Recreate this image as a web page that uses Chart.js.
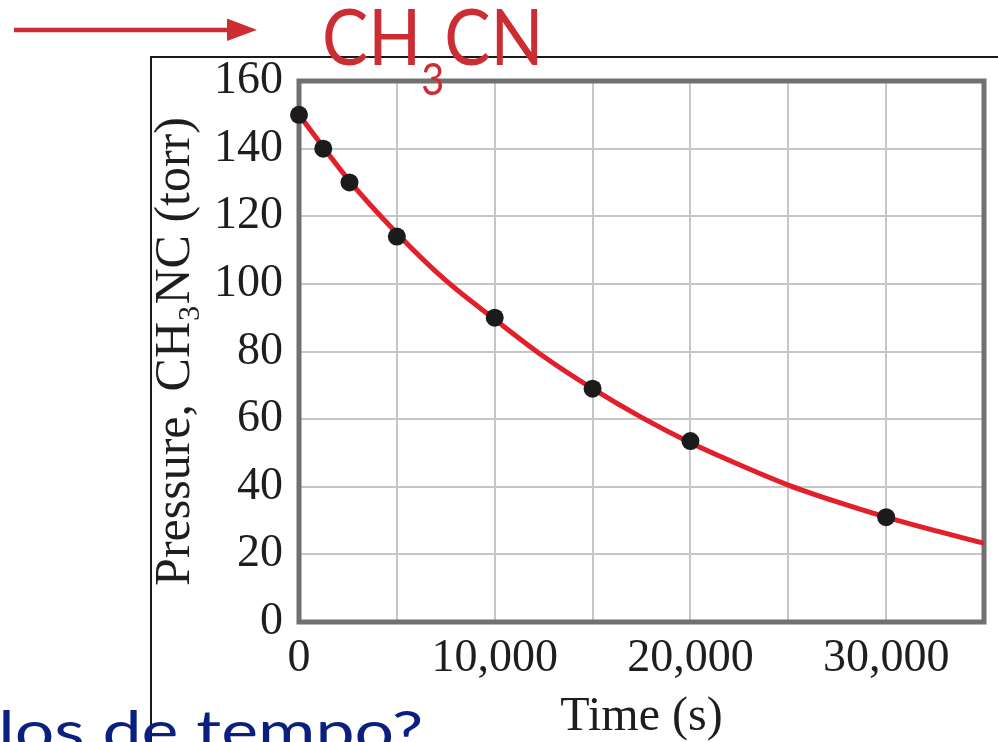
<!DOCTYPE html>
<html>
<head>
<meta charset="utf-8">
<script src="https://cdn.jsdelivr.net/npm/chart.js@4.4.1/dist/chart.umd.min.js"></script>
<style>
  html, body { margin: 0; padding: 0; background: #ffffff; }
  body { width: 998px; height: 742px; position: relative; overflow: hidden; }
  #frame { position: absolute; left: 150px; top: 56px; width: 860px; height: 700px;
           border-left: 2px solid #1a1a1a; border-top: 2px solid #1a1a1a; }
  #wrap { position: absolute; left: 151px; top: 57px; width: 847px; height: 685px; }
  #arrow { position: absolute; left: 0; top: 0; z-index: 3; }
  #formula { position: absolute; left: 322px; top: -3px; font-family: Lato, sans-serif;
             font-size: 77px; line-height: 1; color: #cc2d33; white-space: nowrap; z-index: 4;
             transform-origin: 0 0; transform: scaleX(0.9); }
  #formula span { font-size: 44px; position: relative; top: 30px; }
  #question { position: absolute; right: 575px; top: 701px; font-family: Lato, sans-serif;
              font-size: 57px; line-height: 1; color: #0b1f7e; white-space: nowrap; z-index: 2;
              transform-origin: 100% 0; transform: scaleX(1.225); }
</style>
</head>
<body>
<div id="frame"></div>
<div id="wrap"><canvas id="c"></canvas></div>
<svg id="arrow" width="270" height="50">
  <line x1="14" y1="30" x2="229" y2="30" stroke="#cc2d33" stroke-width="4.5"/>
  <polygon points="227,18.5 257,30 227,41" fill="#cc2d33"/>
</svg>
<div id="formula">CH<span>3</span>CN</div>
<div id="question">intervalos de tempo?</div>
<script>
// Measured points
const pointTimes = [0, 1240, 2580, 5000, 10000, 15000, 20000, 30000];
const pointPressures = [150, 140, 130, 114, 90, 69, 53.5, 31];
// Fitted curve
const curveTimes = [0, 2500, 5000, 7500, 10000, 12500, 15000, 17500, 20000, 22500, 25000, 27500, 30000, 32500, 35000];
const curvePressures = [150, 131, 115, 101, 89.5, 78.5, 69, 60.5, 53, 46.5, 40.5, 35.5, 31, 27, 23.3];
// Axis ticks
const xTickLabels = [0, 10000, 20000, 30000];
const yTicks = [0, 20, 40, 60, 80, 100, 120, 140, 160];

const frameBorder = {
  id: 'frameBorder',
  beforeDatasetsDraw(chart) {
    const a = chart.chartArea, ctx = chart.ctx;
    ctx.save();
    ctx.strokeStyle = '#707070';
    ctx.lineWidth = 5;
    ctx.strokeRect(a.left, a.top, a.right - a.left, a.bottom - a.top);
    ctx.restore();
  }
};

const serif = "'Liberation Serif', 'DejaVu Serif', serif";

new Chart(document.getElementById('c'), {
  type: 'scatter',
  data: {
    datasets: [
      {
        label: 'Measured',
        data: pointTimes.map((t, i) => ({ x: t, y: pointPressures[i] })),
        pointRadius: 9,
        pointHoverRadius: 9,
        pointBackgroundColor: '#1b1b1b',
        pointBorderWidth: 0,
        showLine: false,
        clip: false
      },
      {
        label: 'Fit',
        type: 'line',
        data: curveTimes.map((t, i) => ({ x: t, y: curvePressures[i] })),
        borderColor: '#e2202c',
        borderWidth: 5,
        pointRadius: 0,
        cubicInterpolationMode: 'monotone',
        fill: false
      }
    ]
  },
  options: {
    responsive: true,
    maintainAspectRatio: false,
    animation: false,
    events: [],
    layout: { padding: { top: 24, right: 11, left: 0, bottom: 0 } },
    plugins: { legend: { display: false }, tooltip: { enabled: false } },
    scales: {
      x: {
        type: 'linear',
        min: 0, max: 35000,
        border: { display: false },
        grid: { color: '#c6c6c6', lineWidth: 2, drawTicks: false },
        ticks: {
          stepSize: 5000,
          padding: 14,
          maxRotation: 0,
          autoSkip: false,
          color: '#1e1e1e',
          font: { family: serif, size: 46, lineHeight: 1 },
          callback: (v) => xTickLabels.includes(v) ? v.toLocaleString('en-US') : ''
        },
        title: {
          display: true,
          text: 'Time (s)',
          color: '#1e1e1e',
          font: { family: serif, size: 48, lineHeight: 1 },
          padding: { top: 0, bottom: 1 }
        },
        afterFit: (s) => { s.height = 120; }
      },
      y: {
        min: 0, max: 160,
        border: { display: false },
        grid: { color: '#c6c6c6', lineWidth: 2, drawTicks: false },
        ticks: {
          stepSize: 20,
          padding: 16,
          color: '#1e1e1e',
          font: { family: serif, size: 46, lineHeight: 0.3 },
          callback: (v) => yTicks.includes(v) ? String(v) : ''
        },
        title: {
          display: true,
          text: 'Pressure, CH\u2083NC (torr)',
          color: '#1e1e1e',
          font: { family: serif, size: 50, lineHeight: 1 },
          padding: { top: 0, bottom: 0 }
        },
        afterFit: (s) => { s.width = 148; }
      }
    }
  },
  plugins: [frameBorder]
});
</script>
</body>
</html>
